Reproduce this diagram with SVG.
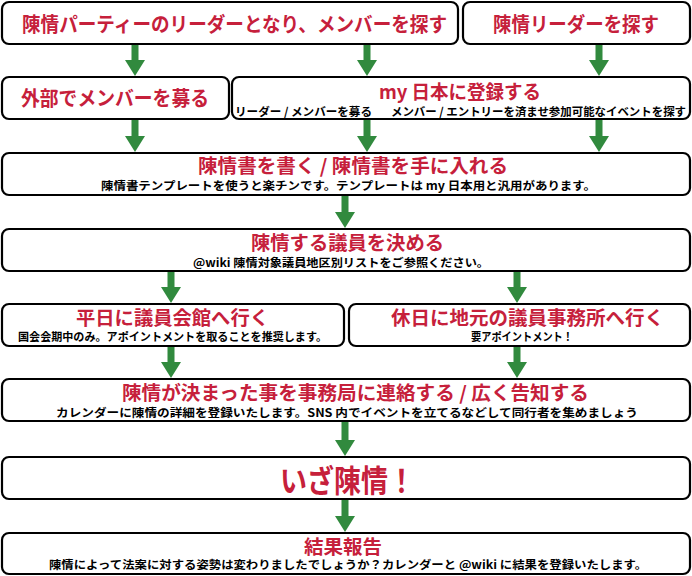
<svg xmlns="http://www.w3.org/2000/svg" width="692" height="576" viewBox="0 0 692 576">
<style>
.box{fill:#fff;stroke:#000;stroke-width:2.2}
.t{font-family:"Noto Sans CJK JP","Noto Sans",sans-serif;font-weight:700;fill:#c6203b;font-size:19px;dominant-baseline:central}
.s{font-family:"Noto Sans CJK JP","Noto Sans",sans-serif;font-weight:700;fill:#000;font-size:11.5px;dominant-baseline:central}
.arr{fill:#318a3e}
</style>
<rect width="692" height="576" fill="#fff"/>
<g id="connectors">
<path class="arr" d="M131.5 44H138.5V60H145L135 76L125 60H131.5Z"/>
<path class="arr" d="M363.5 44H370.5V60H377L367 76L357 60H363.5Z"/>
<path class="arr" d="M595.5 44H602.5V60H609L599 76L589 60H595.5Z"/>
<path class="arr" d="M131.5 119H138.5V136H145L135 152L125 136H131.5Z"/>
<path class="arr" d="M363.5 119H370.5V136H377L367 152L357 136H363.5Z"/>
<path class="arr" d="M595.5 119H602.5V136H609L599 152L589 136H595.5Z"/>
<path class="arr" d="M341.5 195H348.5V212H355L345 228L335 212H341.5Z"/>
<path class="arr" d="M167.5 271H174.5V287H181L171 303L161 287H167.5Z"/>
<path class="arr" d="M513.5 271H520.5V287H527L517 303L507 287H513.5Z"/>
<path class="arr" d="M167.5 346H174.5V362H181L171 378L161 362H167.5Z"/>
<path class="arr" d="M513.5 346H520.5V362H527L517 378L507 362H513.5Z"/>
<path class="arr" d="M341.5 421H348.5V440H355L345 456L335 440H341.5Z"/>
<path class="arr" d="M341.5 499H348.5V516H355L345 532L335 516H341.5Z"/>
</g>
<g id="n1">
<rect class="box" x="2" y="2" width="456" height="42" rx="7"/>
<text class="t" x="22" y="23" style="font-size:20px" textLength="425" lengthAdjust="spacingAndGlyphs">陳情パーティーのリーダーとなり、メンバーを探す</text>
</g>
<g id="n2">
<rect class="box" x="463" y="2" width="227" height="42" rx="7"/>
<text class="t" x="493" y="23" style="font-size:20px" textLength="166" lengthAdjust="spacingAndGlyphs">陳情リーダーを探す</text>
</g>
<g id="n3">
<rect class="box" x="2" y="77" width="227" height="42" rx="7"/>
<text class="t" x="21" y="97.5" style="font-size:20px" textLength="188" lengthAdjust="spacingAndGlyphs">外部でメンバーを募る</text>
</g>
<g id="n4">
<rect class="box" x="232" y="77" width="458" height="42" rx="7"/>
<text class="t" x="379" y="90" textLength="162" lengthAdjust="spacingAndGlyphs">my 日本に登録する</text>
<text class="s" x="235" y="110.5" textLength="137" lengthAdjust="spacingAndGlyphs">リーダー / メンバーを募る</text>
<text class="s" x="391" y="110.5" textLength="295" lengthAdjust="spacingAndGlyphs">メンバー / エントリーを済ませ参加可能なイベントを探す</text>
</g>
<g id="n5">
<rect class="box" x="2" y="153" width="688" height="42" rx="7"/>
<text class="t" x="198" y="164.5" textLength="310" lengthAdjust="spacingAndGlyphs">陳情書を書く / 陳情書を手に入れる</text>
<text class="s" x="101" y="184.5" textLength="495" lengthAdjust="spacingAndGlyphs">陳情書テンプレートを使うと楽チンです。テンプレートは my 日本用と汎用があります。</text>
</g>
<g id="n6">
<rect class="box" x="2" y="229" width="688" height="42" rx="7"/>
<text class="t" x="251" y="241.5" textLength="193" lengthAdjust="spacingAndGlyphs">陳情する議員を決める</text>
<text class="s" x="193" y="262" textLength="296" lengthAdjust="spacingAndGlyphs">@wiki 陳情対象議員地区別リストをご参照ください。</text>
</g>
<g id="n7">
<rect class="box" x="2" y="304" width="342" height="42" rx="7"/>
<text class="t" x="76" y="316" textLength="193" lengthAdjust="spacingAndGlyphs">平日に議員会館へ行く</text>
<text class="s" x="18" y="336" textLength="309" lengthAdjust="spacingAndGlyphs">国会会期中のみ。アポイントメントを取ることを推奨します。</text>
</g>
<g id="n8">
<rect class="box" x="349" y="304" width="341" height="42" rx="7"/>
<text class="t" x="391" y="316" textLength="273" lengthAdjust="spacingAndGlyphs">休日に地元の議員事務所へ行く</text>
<text class="s" x="471" y="336" textLength="102" lengthAdjust="spacingAndGlyphs">要アポイントメント！</text>
</g>
<g id="n9">
<rect class="box" x="2" y="379" width="688" height="42" rx="7"/>
<text class="t" x="122" y="391.5" textLength="467" lengthAdjust="spacingAndGlyphs">陳情が決まった事を事務局に連絡する / 広く告知する</text>
<text class="s" x="56" y="412" textLength="582" lengthAdjust="spacingAndGlyphs">カレンダーに陳情の詳細を登録いたします。SNS 内でイベントを立てるなどして同行者を集めましょう</text>
</g>
<g id="n10">
<rect class="box" x="2" y="457" width="688" height="42" rx="7"/>
<text class="t" x="280" y="478" style="font-size:31px" textLength="135" lengthAdjust="spacingAndGlyphs">いざ陳情！</text>
</g>
<g id="n11">
<rect class="box" x="2" y="533" width="688" height="41" rx="7"/>
<text class="t" x="304" y="545" textLength="78" lengthAdjust="spacingAndGlyphs">結果報告</text>
<text class="s" x="49" y="564" textLength="598" lengthAdjust="spacingAndGlyphs">陳情によって法案に対する姿勢は変わりましたでしょうか？カレンダーと @wiki に結果を登録いたします。</text>
</g>
</svg>
